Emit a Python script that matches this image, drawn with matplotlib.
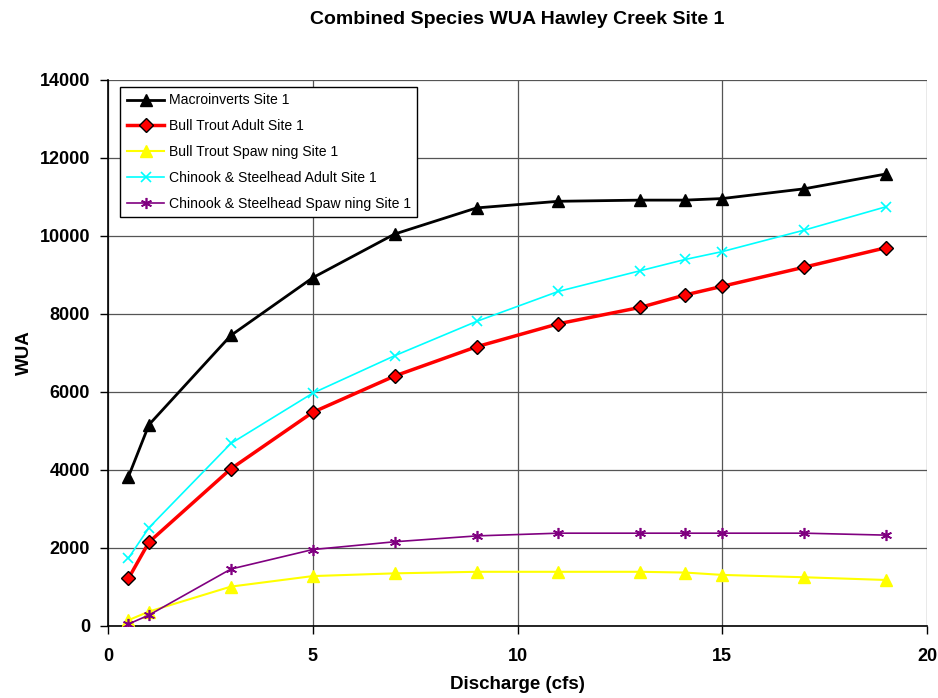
import matplotlib.pyplot as plt

plt.rcParams['font.family'] = ['Liberation Sans', 'DejaVu Sans']

# Discharge (cfs) and WUA per species
discharge = [0.5, 1, 3, 5, 7, 9, 11, 13, 14.1, 15, 17, 19]

macroinverts = [3830, 5160, 7450, 8930, 10050, 10720, 10890, 10920, 10920, 10960, 11210, 11590]
bull_adult = [1220, 2150, 4030, 5480, 6410, 7160, 7750, 8170, 8490, 8710, 9200, 9700]
bull_spawn = [150, 370, 1010, 1280, 1350, 1390, 1390, 1390, 1370, 1310, 1250, 1180]
chinook_adult = [1740, 2520, 4680, 5970, 6930, 7810, 8580, 9110, 9400, 9600, 10150, 10750]
chinook_spawn = [50, 280, 1460, 1960, 2160, 2310, 2380, 2380, 2380, 2380, 2380, 2330]

labels = [
    "Macroinverts Site 1",
    "Bull Trout Adult Site 1",
    "Bull Trout Spaw ning Site 1",
    "Chinook & Steelhead Adult Site 1",
    "Chinook & Steelhead Spaw ning Site 1",
]

fig = plt.figure(figsize=(9.38, 6.98), dpi=100)
ax = fig.add_axes([108 / 938, 1 - 626 / 698, 819 / 938, 546 / 698])

ax.plot(discharge, macroinverts, color='black', lw=2, marker='^', ms=9,
        mfc='black', mec='black', label=labels[0], zorder=5)
ax.plot(discharge, bull_adult, color='red', lw=2.5, marker='D', ms=7,
        mfc='red', mec='black', mew=1, label=labels[1], zorder=4)
ax.plot(discharge, bull_spawn, color='yellow', lw=1.5, marker='^', ms=8,
        mfc='yellow', mec='yellow', label=labels[2], zorder=3)
ax.plot(discharge, chinook_adult, color='cyan', lw=1.2, marker='x', ms=7,
        mew=1.2, label=labels[3], zorder=3)
ax.plot(discharge, chinook_spawn, color='purple', lw=1.2, marker=(6, 2, 0), ms=8,
        mew=1.2, label=labels[4], zorder=3)

ax.set_xlim(0, 20)
ax.set_ylim(0, 14000)
ax.set_xticks(range(0, 21, 5))
ax.set_yticks(range(0, 14001, 2000))
ax.grid(True, color='#555555', lw=0.9)
ax.set_axisbelow(True)

for side in ('top', 'right'):
    ax.spines[side].set_visible(False)
for side in ('left', 'bottom'):
    ax.spines[side].set_linewidth(1.2)

ax.tick_params(axis='both', labelsize=13, length=6, width=1)
for lbl in ax.get_xticklabels() + ax.get_yticklabels():
    lbl.set_fontweight('bold')
ax.tick_params(axis='x', pad=10)
ax.tick_params(axis='y', pad=7)

ax.set_xlabel("Discharge (cfs)", fontsize=13.5, fontweight='bold', labelpad=8)
ax.set_ylabel("WUA", fontsize=13.5, fontweight='bold', labelpad=5)
fig.text(0.551, 0.972, "Combined Species WUA Hawley Creek Site 1",
         ha='center', va='center', fontsize=14, fontweight='bold')

leg = ax.legend(loc='upper left', bbox_to_anchor=(0.015, 0.987), fontsize=10.1,
                frameon=True, fancybox=False, edgecolor='black', framealpha=1,
                borderpad=0.45, labelspacing=0.85, handlelength=2.7,
                handletextpad=0.3, borderaxespad=0)
leg.get_frame().set_linewidth(1)

fig.savefig("out.png", dpi=100)
